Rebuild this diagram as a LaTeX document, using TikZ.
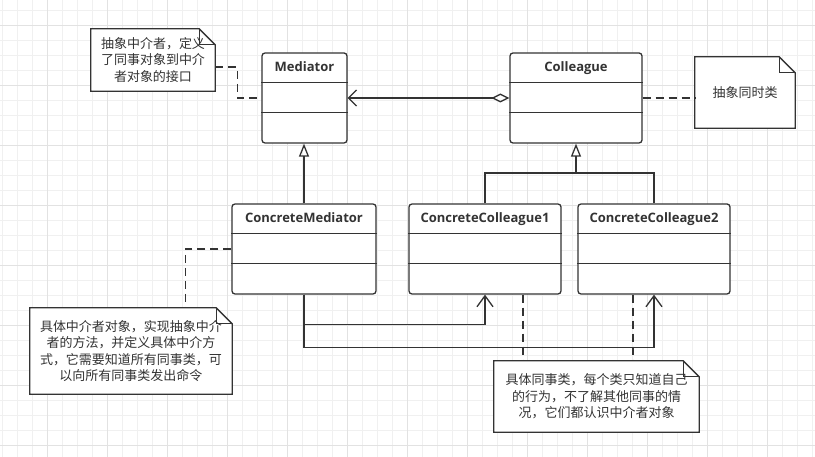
\documentclass[tikz,border=0pt]{standalone}
\usepackage{fontspec}
\newfontfamily\cjk{Noto Sans CJK SC}
\newfontfamily\clsfont{Open Sans}
\usepackage{tikz}
\usetikzlibrary{arrows.meta,backgrounds}
\definecolor{linegray}{HTML}{333333}
\definecolor{gridminor}{HTML}{F0F0F0}
\definecolor{gridmajor}{HTML}{E2E2E2}

\begin{document}
\begin{tikzpicture}[x=1pt, y=-1pt,
  classbox/.style={draw=linegray, line width=1.3pt, fill=white, rounded corners=3pt,
    minimum height=90pt, inner sep=0pt},
  classtitle/.style={anchor=base, text=linegray, font=\clsfont\bfseries\fontsize{13}{15}\selectfont},
  classline/.style={draw=linegray, line width=1.3pt},
  notebox/.style={align=center, text=linegray, inner sep=0pt,
    font=\cjk\fontsize{13}{16.5}\selectfont},
  noteline/.style={draw=linegray, line width=1.3pt, fill=white},
  link/.style={draw=linegray, line width=1.3pt},
  dashline/.style={link, dash pattern=on 8pt off 5pt},
  gen/.style={link, -{Triangle[open, length=13pt, width=10pt]}},
  aggr/.style={link, {Diamond[open, length=18pt, width=9pt]}-{Straight Barb[length=8pt, width=16pt]}},
  assoc/.style={link, -{Straight Barb[length=11pt, width=16pt]}}]
\useasboundingbox (0,0) rectangle (815,457);
%%%%% Grid %%%%%
\begin{scope}[on background layer]
\fill[white] (0,0) rectangle (815,457);
\foreach \gx in {2,17,...,812}{
\draw[gridminor, line width=0.8pt] (\gx,0)--(\gx,457);
}
\foreach \gy in {10,25,...,455}{
\draw[gridminor, line width=0.8pt] (0,\gy)--(815,\gy);
}
\foreach \gx in {47,107,...,767}{
\draw[gridmajor, line width=0.8pt] (\gx,0)--(\gx,457);
}
\foreach \gy in {25,85,...,445}{
\draw[gridmajor, line width=0.8pt] (0,\gy)--(815,\gy);
}
\end{scope}
%%%%% Classes %%%%%
\foreach \nm/\cx/\cy/\bw/\ttl in {med/304.5/98/85/Mediator, col/576/98/132/Colleague,
  cmed/304/249/144/ConcreteMediator, ccol1/485/249/152/ConcreteColleague1,
  ccol2/654/249/152/ConcreteColleague2}{
\node[classbox, minimum width={\bw pt}] (\nm) at (\cx,\cy) {};
\node[classtitle] (\nm-title) at ([yshift=-19.5pt]\nm.north) {\ttl};
\draw[classline] ([yshift=-30pt]\nm.north west)--([yshift=-30pt]\nm.north east);
\draw[classline] ([yshift=-60pt]\nm.north west)--([yshift=-60pt]\nm.north east);
}
%%%%% Notes %%%%%
\node[notebox, minimum width=124pt, minimum height=62pt] (notemed) at (153,60)
  {抽象中介者，定义\\了同事对象到中介\\者对象的接口};
\node[notebox, minimum width=100pt, minimum height=71pt] (notecol) at (745,92.5)
  {抽象同时类};
\node[notebox, minimum width=202pt, minimum height=86pt] (notecmed) at (131,351)
  {具体中介者对象，实现抽象中介\\者的方法，并定义具体中介方\\式，它需要知道所有同事类，可\\以向所有同事类发出命令};
\node[notebox, minimum width=205pt, minimum height=71pt] (noteccol) at (596.5,396.5)
  {具体同事类，每个类只知道自己\\的行为，不了解其他同事的情\\况，它们都认识中介者对象};
\begin{scope}[on background layer]
\foreach \nt in {notemed,notecol,notecmed,noteccol}{
\draw[noteline] (\nt.south west)--(\nt.north west)--([xshift=-16pt]\nt.north east)
  --([yshift=-16pt]\nt.north east)--(\nt.south east)--cycle;
\draw[classline] ([xshift=-16pt]\nt.north east)--([xshift=-16pt,yshift=-16pt]\nt.north east)
  --([yshift=-16pt]\nt.north east);
}
\end{scope}
%%%%% Relations %%%%%
\draw[aggr] (col.west)--(med.east);
\draw[gen] (cmed.north)--(cmed.north |- med.south);
\coordinate (genjoin) at (576,173);
\draw[link] (ccol1.north) |- (genjoin) -| (ccol2.north);
\draw[gen] (genjoin)--(col.south);
\draw[assoc] (cmed.south) |- ([yshift=-30pt]ccol1.south)--(ccol1.south);
\draw[assoc] (cmed.south) |- ([yshift=-53pt]ccol2.south)--(ccol2.south);
% dashed note links
\draw[dashline] ([yshift=-7pt]notemed.east) -| ([xshift=-24pt]med.west)--(med.west);
\draw[dashline] (col.east)--(col.east -| notecol.west);
\draw[dashline] (cmed.west) -| ([xshift=-46pt]cmed.west |- notecmed.north);
\draw[dashline] ([xshift=38pt]ccol1.south)--([xshift=38pt]ccol1.south |- noteccol.north);
\draw[dashline] ([xshift=-21pt]ccol2.south)--([xshift=-21pt]ccol2.south |- noteccol.north);
\end{tikzpicture}
\end{document}
